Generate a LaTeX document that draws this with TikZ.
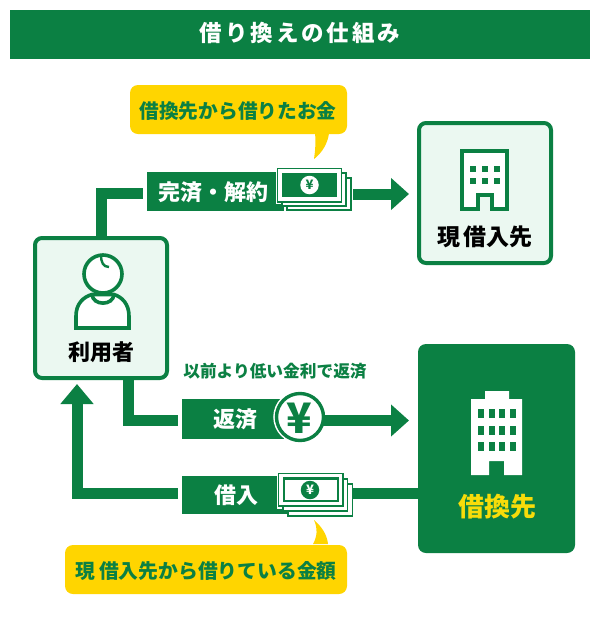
\documentclass[tikz,border=0pt]{standalone}
\usepackage{fontspec}
\setmainfont{Noto Sans CJK JP}
\usetikzlibrary{arrows.meta,positioning,calc}
\definecolor{gr}{HTML}{0B8043}
\definecolor{pale}{HTML}{EBF8F1}
\definecolor{yel}{HTML}{FFD500}
\definecolor{yeltxt}{HTML}{F7DC0A}
\newcommand{\fs}[1]{\fontsize{#1}{#1}\selectfont\bfseries}
\tikzset{
  x=1pt,y=-1pt,
  box/.style={draw=gr,fill=pale,line width=4pt,rounded corners=7pt,minimum width=132pt,minimum height=140pt,inner sep=0pt,outer sep=0pt},
  band/.style={fill=gr,inner sep=0pt,outer sep=0pt},
  tag/.style={text=white,inner sep=0pt},
  callout/.style={fill=yel,rounded corners=8pt,inner sep=0pt,outer sep=0pt},
  calltxt/.style={text=gr,inner sep=0pt},
  bar/.style={draw=gr,line width=11pt},
  arrowbar/.style={draw=gr,line width=11pt,-{Triangle[length=18pt,width=31pt]}},
  billout/.style={draw=gr,fill=white,line width=1.2pt},
  hole/.style={minimum width=70pt,minimum height=40pt,inner sep=0pt,outer sep=0pt},
  iconline/.style={draw=gr,fill=white,line width=3.6pt},
}
\begin{document}
\begin{tikzpicture}
\useasboundingbox (0,0) rectangle (600,630);
\fill[white] (0,0) rectangle (600,630);
% title
\node[band,minimum width=580pt,minimum height=49pt] (title) at (300,34.5) {};
\node[text=white,inner sep=0pt] (titletext) at (300,33) {\fs{22.5}\addfontfeatures{LetterSpace=13}借り換えの仕組み};

% boxes
\node[box] (user) at (101,308) {};
\node[box] (cur) at (485,193) {};
\node[fill=gr,rounded corners=8pt,minimum width=157pt,minimum height=209pt,inner sep=0pt,outer sep=0pt] (new) at (496.5,448.5) {};

% user icon
\path[iconline] (76,328) -- (76,316) .. controls (76,304) and (83,297) .. (92,294.5) -- (114,294.5) .. controls (122,297) and (129,304) .. (129,316) -- (129,328) -- cycle;
\path[iconline,fill=none] (92,294.5) .. controls (93,306) and (113,306) .. (114,294.5);
\path[iconline] (103,274) circle (19);
\draw[gr,line width=2.4pt] (101,255) .. controls (101,262) and (103,267) .. (109,267);
\node[inner sep=0pt] (usertext) at (101,352) {\fs{22}利用者};

% building 1
\path[iconline] (462,151) -- (507,151) -- (507,209) -- (492,209) -- (492,195) -- (478,195) -- (478,209) -- (462,209) -- cycle;
\foreach \wx in {470,482,494}\foreach \wy in {166,178}{\fill[gr] (\wx,\wy) rectangle ++(6,6);}
\node[inner sep=0pt] (curtext) at (485,237) {\fs{23}現\hspace{3pt}借入先};

% building 2
\fill[white] (471,475) -- (471,399) -- (485,399) -- (485,391) -- (509,391) -- (509,399) -- (522,399) -- (522,475) -- (504,475) -- (504,461) -- (489,461) -- (489,475) -- cycle;
\foreach \wx in {478,488.5,499,510}\foreach \wy in {409,425.5,442}{\fill[gr] (\wx,\wy) rectangle ++(6.3,9.3);}
\node[inner sep=0pt,text=yeltxt] (newtext) at (497,507) {\fs{26}借換先};

% top row
\node[band,minimum width=137pt,minimum height=39pt] (tagA) at (215.5,191.5) {};
\node[hole] (billA) at (316,189) {};
\draw[bar,shorten >=4pt] (user.north) |- ([yshift=-2pt]tagA.west);
\draw[arrowbar,shorten >=10pt,shorten <=2pt] ([yshift=-5pt]billA.east) -- ([yshift=-1pt]cur.west);
\node[tag] (tagAtext) at (213,192) {\fs{22}完済・解約};
% money A
\draw[white,line width=3pt] (277,168) rectangle (342,202);
\draw[billout] (287,178) rectangle (351,210);
\draw[billout] (282,173) rectangle (346,206);
\draw[billout] (277.5,168.5) rectangle (341.5,202);
\fill[gr] (282,173) rectangle (337,197);
\node[circle,fill=white,minimum size=18.5pt,inner sep=0pt,text=gr] (yenA) at (309.5,185) {\fs{13}¥};

% callout A
\node[callout,minimum width=217pt,minimum height=49pt] (callA) at (238.5,109.5) {};
\fill[yel] ([xshift=-32pt,yshift=1pt]callA.south east) .. controls (316,143) and (315,152) .. (314,159) .. controls (322,153) and (328,143) .. ([xshift=-18pt,yshift=1pt]callA.south east) -- cycle;
\node[calltxt] (callAtext) at (238,111) {\fs{19.7}借換先から借りたお金};

% repay row
\node[text=gr,inner sep=0pt] (note) at (275,371) {\fs{16.7}以前より低い金利で返済};
\node[band,minimum width=102pt,minimum height=40pt] (tagB) at (233,419) {};
\draw[bar,shorten >=4pt] ([xshift=27pt]user.south) |- ([yshift=-1.5pt]tagB.west);
\node[circle,draw=white,line width=2pt,minimum size=51.5pt,inner sep=0pt,outer sep=0pt] (yenring) at (300,417) {};
\draw[arrowbar,shorten >=9pt] (300,420.5) -- (new.west |- {0,420.5});
\node[circle,draw=gr,fill=white,line width=3.4pt,minimum size=47pt,inner sep=0pt,outer sep=0pt,text=gr] (yenB) at (300,417) {};
\node[tag] (tagBtext) at (235,419) {\fs{22}返済};
\node[inner sep=0pt,text=gr] (yenBtext) at (299.5,418) {\fs{42}¥};

% borrow row
\node[band,minimum width=105pt,minimum height=38pt] (tagC) at (234.5,495) {};
\node[hole] (billC) at (315.5,494.5) {};
\draw[bar] (new.west |- {0,493.5}) -- (353,493.5);
\draw[arrowbar,shorten >=6pt,-{Triangle[length=20pt,width=32pt]}] ([yshift=1.5pt,xshift=-4pt]tagC.west) -| ([xshift=-24pt]user.south);
\node[tag] (tagCtext) at (236,495) {\fs{22}借入};
% money C
\draw[white,line width=3pt] (278,473) rectangle (343,507);
\draw[billout] (288,484) rectangle (352.5,516);
\draw[billout] (283,479) rectangle (347.5,511);
\draw[billout] (278.5,473.5) rectangle (343,506);
\draw[gr,line width=2.6pt] (284,478.5) rectangle (338,501);
\node[circle,fill=gr,minimum size=18.5pt,inner sep=0pt,text=white] (yenC) at (310,490) {\fs{13}¥};

% callout C
\node[callout,minimum width=282pt,minimum height=49pt] (callC) at (206,569.5) {};
\fill[yel] ([xshift=-34pt,yshift=1pt]callC.north east) .. controls (317,537) and (318,529) .. (314,520) .. controls (321,526) and (327,534) .. ([xshift=-19pt,yshift=1pt]callC.north east) -- cycle;
\node[calltxt] (callCtext) at (206,571) {\fs{19.8}現\hspace{4pt}借入先から借りている金額};
\end{tikzpicture}
\end{document}
